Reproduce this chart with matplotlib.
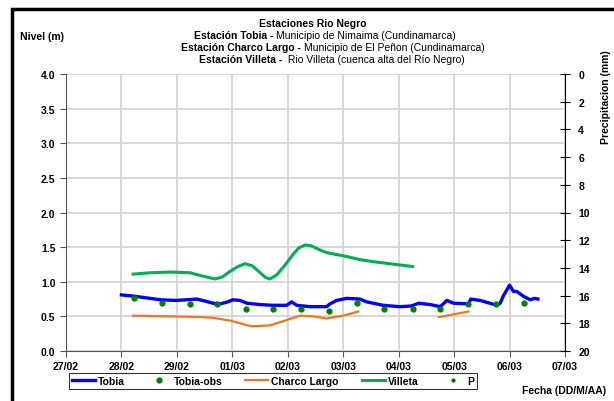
import numpy as np
import matplotlib.pyplot as plt
from matplotlib.patches import Rectangle
from matplotlib.lines import Line2D

plt.rcParams['font.family'] = ['Liberation Sans', 'DejaVu Sans']

# eje x en dias desde 27/02
fechas = ['27/02', '28/02', '29/02', '01/03', '02/03', '03/03', '04/03', '05/03', '06/03', '07/03']

# Tobia (simulado)
tobia_t = [1.00, 1.24, 1.70, 1.97, 2.18, 2.36, 2.51, 2.65, 2.78, 2.92, 3.01, 3.14, 3.26, 3.50,
           3.73, 3.98, 4.07, 4.16, 4.40, 4.70, 4.76, 4.88, 5.06, 5.30, 5.42, 5.72, 6.02, 6.23,
           6.36, 6.57, 6.75, 6.87, 6.99, 7.26, 7.30, 7.47, 7.77, 7.83, 7.89, 8.00, 8.07, 8.13,
           8.25, 8.37, 8.46, 8.51]
tobia_h = [0.81, 0.79, 0.74, 0.73, 0.74, 0.75, 0.72, 0.69, 0.68, 0.71, 0.74, 0.73, 0.69, 0.67,
           0.66, 0.66, 0.71, 0.66, 0.64, 0.64, 0.68, 0.73, 0.76, 0.75, 0.71, 0.66, 0.64, 0.65,
           0.69, 0.67, 0.64, 0.73, 0.69, 0.68, 0.75, 0.73, 0.66, 0.69, 0.80, 0.95, 0.86, 0.86,
           0.79, 0.74, 0.76, 0.75]

# Tobia observado
obs_t = [1.23, 1.74, 2.24, 2.73, 3.24, 3.74, 4.24, 4.74, 5.24, 5.74, 6.25, 6.75, 7.25, 7.76, 8.26]
obs_h = [0.76, 0.70, 0.68, 0.68, 0.60, 0.60, 0.60, 0.58, 0.70, 0.60, 0.60, 0.60, 0.68, 0.68, 0.70]

# Charco Largo (dos tramos)
charco_t1 = [1.21, 1.88, 2.42, 2.65, 2.87, 2.96, 3.14, 3.32, 3.44, 3.68, 3.99, 4.22, 4.46, 4.70, 5.00, 5.27]
charco_h1 = [0.51, 0.50, 0.49, 0.48, 0.45, 0.44, 0.40, 0.36, 0.36, 0.37, 0.45, 0.51, 0.50, 0.47, 0.51, 0.57]
charco_t2 = [6.73, 7.26]
charco_h2 = [0.49, 0.57]

# Villeta
villeta_t = [1.21, 1.52, 1.88, 2.24, 2.42, 2.69, 2.82, 2.96, 3.10, 3.23, 3.36, 3.50, 3.60, 3.68,
             3.80, 3.95, 4.10, 4.20, 4.31, 4.42, 4.55, 4.70, 5.03, 5.30, 5.54, 5.84, 6.25]
villeta_h = [1.11, 1.13, 1.14, 1.13, 1.09, 1.04, 1.07, 1.15, 1.22, 1.26, 1.23, 1.13, 1.06, 1.04,
             1.10, 1.24, 1.40, 1.49, 1.53, 1.52, 1.47, 1.42, 1.37, 1.32, 1.29, 1.26, 1.22]

# Precipitacion (sin registros)
p_t = []
p_mm = []

fig = plt.figure(figsize=(6.14, 4.02), dpi=100)
ax = fig.add_axes([66/614, 1-352/402, (565-66)/614, (352-75)/402])

ax.plot(tobia_t, tobia_h, color='#0000ff', lw=2.4, zorder=4)
ax.plot(obs_t, obs_h, 'o', color='#008000', ms=3.5, zorder=5)
ax.plot(charco_t1, charco_h1, color='#ee7722', lw=1.6, zorder=3)
ax.plot(charco_t2, charco_h2, color='#ee7722', lw=1.6, zorder=3)
ax.plot(villeta_t, villeta_h, color='#00b050', lw=2.2, zorder=3)

ax.set_xlim(0, 9)
ax.set_ylim(0, 4)
ax.set_xticks(range(len(fechas)))
ax.set_xticklabels(fechas)
ax.set_yticks(np.arange(0, 4.01, 0.5))
ax.set_yticklabels(['%.1f' % v for v in np.arange(0, 4.01, 0.5)])
ax.grid(True, color='#d4d4d4', lw=1.3)
ax.set_axisbelow(True)
for s in ['top', 'right']:
    ax.spines[s].set_visible(False)
for s in ['left', 'bottom']:
    ax.spines[s].set_color('#555555')
ax.tick_params(axis='both', colors='#555555', length=4, labelcolor='black', labelsize=7.5)
for lab in ax.get_xticklabels() + ax.get_yticklabels():
    lab.set_fontweight('bold')

ax2 = ax.twinx()
ax2.plot(p_t, p_mm, 'o', color='#006400', ms=2)
ax2.set_ylim(20, 0)
ax2.set_yticks(range(0, 21, 2))
for s in ['top', 'left', 'bottom']:
    ax2.spines[s].set_visible(False)
ax2.spines['right'].set_color('black')
ax2.tick_params(axis='y', direction='inout', length=7, labelsize=7.5, pad=6)
for lab in ax2.get_yticklabels():
    lab.set_fontweight('bold')

# marco exterior
fig.patches.append(Rectangle((12/614, -0.1), 1.2, (402-10)/402 + 0.1, transform=fig.transFigure,
                             fill=False, ec='black', lw=2.5, clip_on=False))

# titulo
fs = 7.5
fig.text(313/614, 1-24/402, 'Estaciones Rio Negro', ha='center', va='center', fontsize=fs, fontweight='bold')
lineas = [('Estación Tobia - ', 'Municipio de Nimaima (Cundinamarca)', 276, 36),
          ('Estación Charco Largo - ', 'Municipio de El Peñon (Cundinamarca)', 304, 48),
          ('Estación Villeta - ', ' Rio Villeta (cuenca alta del Río Negro)', 285, 60)]
for negrita, normal, xs, yy in lineas:
    fig.text(xs/614, 1-yy/402, negrita, ha='right', va='center', fontsize=fs, fontweight='bold')
    fig.text(xs/614, 1-yy/402, normal, ha='left', va='center', fontsize=fs)

fig.text(20/614, 1-37/402, 'Nivel (m)', ha='left', va='center', fontsize=fs, fontweight='bold')
fig.text(606/614, 1-97/402, 'Precipitacion (mm)', ha='center', va='center', rotation=90,
         fontsize=fs, fontweight='bold')
fig.text(522/614, 1-391/402, 'Fecha (DD/M/AA)', ha='left', va='center', fontsize=fs, fontweight='bold')

handles = [Line2D([], [], color='#0000ff', lw=2.4),
           Line2D([], [], ls='', marker='o', color='#008000', ms=3.5),
           Line2D([], [], color='#ee7722', lw=1.6),
           Line2D([], [], color='#00b050', lw=2.2),
           Line2D([], [], ls='', marker='o', color='#006400', ms=2)]
leg = fig.legend(handles, ['Tobia', 'Tobia-obs', 'Charco Largo', 'Villeta', 'P'],
                 loc='center', bbox_to_anchor=(273/614, 1-382/402), ncol=5,
                 prop={'weight': 'bold', 'size': fs}, frameon=True, fancybox=False,
                 handlelength=2.2, handletextpad=0.3, columnspacing=2.2, borderpad=0.3)
leg.get_frame().set_edgecolor('black')
leg.get_frame().set_linewidth(0.8)

fig.savefig('out.png', dpi=100)
